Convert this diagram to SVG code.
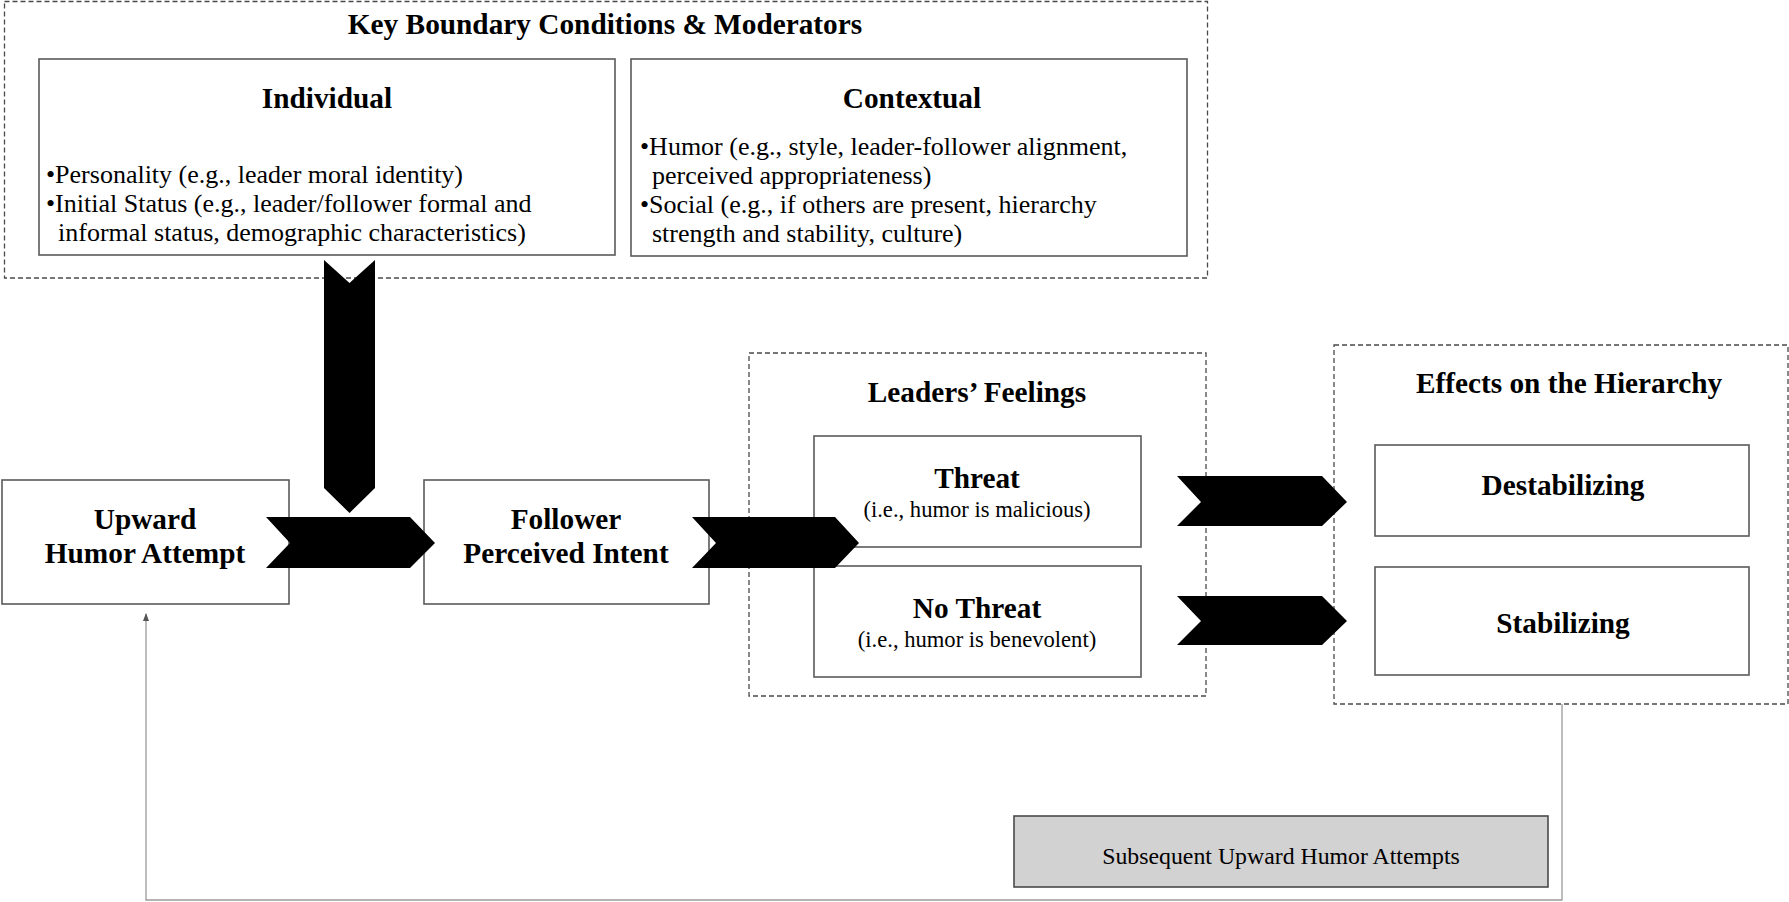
<svg xmlns="http://www.w3.org/2000/svg" width="1789" height="902" viewBox="0 0 1789 902">
<style>
.box{fill:#ffffff;stroke:#5a5a5a;stroke-width:1.6}
.grp{fill:none;stroke:#4a4a4a;stroke-width:1.3;stroke-dasharray:5 3}
.b{font-family:"Liberation Serif","Times New Roman",serif;font-weight:bold;font-size:29.3px;fill:#000;text-anchor:middle}
.r{font-family:"Liberation Serif","Times New Roman",serif;font-size:26px;fill:#000}
.s{font-family:"Liberation Serif","Times New Roman",serif;font-size:22.6px;fill:#000;text-anchor:middle}
.chev{fill:#000}
.fb{fill:none;stroke:#9a9a9a;stroke-width:1.3}
</style>
<defs>
<marker id="ah" markerWidth="8" markerHeight="8" refX="7" refY="4" orient="auto" markerUnits="userSpaceOnUse">
<path d="M0,1 L8,4 L0,7 Z" fill="#555"/>
</marker>
</defs>
<rect width="1789" height="902" fill="#ffffff"/>

<g id="moderators">
<rect class="grp" x="4.5" y="1.5" width="1203" height="276.5"/>
<text class="b" x="605" y="34">Key Boundary Conditions &amp; Moderators</text>
</g>

<g id="individual">
<rect class="box" x="39" y="59" width="576" height="196"/>
<text class="b" x="327" y="108">Individual</text>
<text class="r" x="46" y="183">•Personality (e.g., leader moral identity)</text>
<text class="r" x="46" y="212">•Initial Status (e.g., leader/follower formal and</text>
<text class="r" x="58" y="241">informal status, demographic characteristics)</text>
</g>

<g id="contextual">
<rect class="box" x="631" y="59" width="556" height="197"/>
<text class="b" x="912" y="108">Contextual</text>
<text class="r" x="640" y="155">•Humor (e.g., style, leader-follower alignment,</text>
<text class="r" x="652" y="184">perceived appropriateness)</text>
<text class="r" x="640" y="213">•Social (e.g., if others are present, hierarchy</text>
<text class="r" x="652" y="242">strength and stability, culture)</text>
</g>

<g id="upward">
<rect class="box" x="2" y="480" width="287" height="124"/>
<text class="b" x="145" y="529">Upward</text>
<text class="b" x="145" y="563">Humor Attempt</text>
</g>

<g id="follower">
<rect class="box" x="424" y="480" width="285" height="124"/>
<text class="b" x="566" y="529">Follower</text>
<text class="b" x="566" y="563">Perceived Intent</text>
</g>

<g id="leaders-feelings">
<rect class="grp" x="749" y="353" width="457" height="343"/>
<text class="b" x="977" y="402">Leaders’ Feelings</text>
</g>

<g id="threat">
<rect class="box" x="814" y="436" width="327" height="111"/>
<text class="b" x="977" y="488">Threat</text>
<text class="s" x="977" y="517">(i.e., humor is malicious)</text>
</g>

<g id="no-threat">
<rect class="box" x="814" y="566" width="327" height="111"/>
<text class="b" x="977" y="618">No Threat</text>
<text class="s" x="977" y="647">(i.e., humor is benevolent)</text>
</g>

<g id="effects">
<rect class="grp" x="1334" y="345" width="454" height="359"/>
<text class="b" x="1569" y="393">Effects on the Hierarchy</text>
</g>

<g id="destabilizing">
<rect class="box" x="1375" y="445" width="374" height="91"/>
<text class="b" x="1563" y="495">Destabilizing</text>
</g>

<g id="stabilizing">
<rect class="box" x="1375" y="567" width="374" height="108"/>
<text class="b" x="1563" y="633">Stabilizing</text>
</g>

<g id="subsequent">
<rect x="1014" y="816" width="534" height="71" fill="#d3d2d3" stroke="#4a4a4a" stroke-width="1.6"/>
<text class="s" x="1281" y="864" style="font-size:23.8px">Subsequent Upward Humor Attempts</text>
</g>

<g id="connectors">
<polygon class="chev" points="324,260 349.5,283 375,260 375,488 349.5,513 324,488"/>
<polygon class="chev" points="266,517 410,517 435,543 410,568 266,568 290,543"/>
<polygon class="chev" points="692,517 835,517 859,543 835,568 692,568 716,543"/>
<polygon class="chev" points="1177,476 1322,476 1347,502 1322,526 1177,526 1201,502"/>
<polygon class="chev" points="1177,596 1322,596 1347,621 1322,645 1177,645 1201,621"/>
<polyline class="fb" points="1562,704 1562,900 146,900 146,614" marker-end="url(#ah)"/>
</g>
</svg>
